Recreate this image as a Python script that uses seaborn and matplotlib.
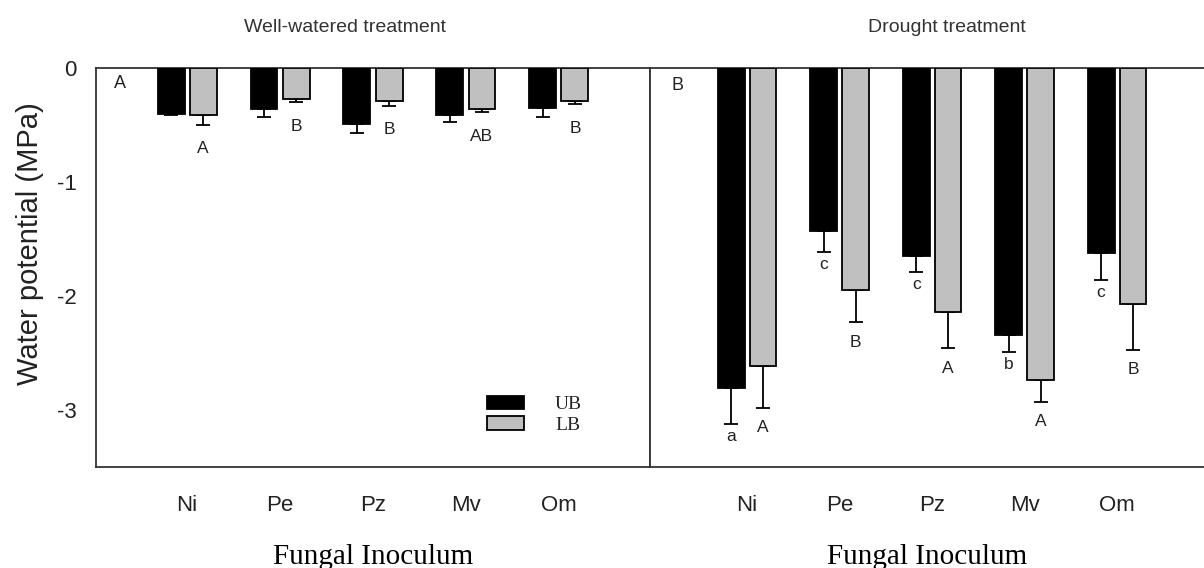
import matplotlib
matplotlib.use("Agg")
import matplotlib.pyplot as plt
from matplotlib.patches import Patch
import seaborn as sns
import pandas as pd

# ---------------- data ----------------
fungi = ["Ni", "Pe", "Pz", "Mv", "Om"]
roots = ["UB", "LB"]

ww_ub = [-0.40, -0.36, -0.49, -0.41, -0.35]
ww_ub_err = [0.01, 0.07, 0.08, 0.06, 0.08]
ww_lb = [-0.41, -0.27, -0.29, -0.36, -0.29]
ww_lb_err = [0.09, 0.03, 0.04, 0.03, 0.03]

dr_ub = [-2.81, -1.43, -1.65, -2.34, -1.62]
dr_ub_err = [0.31, 0.18, 0.14, 0.15, 0.24]
dr_lb = [-2.61, -1.95, -2.14, -2.74, -2.07]
dr_lb_err = [0.37, 0.28, 0.32, 0.19, 0.40]

ww_ub_letters = ["", "", "", "", ""]
ww_lb_letters = ["A", "B", "B", "AB", "B"]
dr_ub_letters = ["a", "c", "c", "b", "c"]
dr_lb_letters = ["A", "B", "A", "A", "B"]

yticks = [0, -1, -2, -3]
titles = ["Well-watered treatment", "Drought treatment"]
panel_tags = ["A", "B"]
xlabel = "Fungal Inoculum"
ylabel = "Water potential (MPa)"

# ---------------- style ----------------
sns.set_style("white")
plt.rcParams["font.family"] = ["Liberation Sans", "DejaVu Sans"]
plt.rcParams["axes.unicode_minus"] = False

W, H = 1204, 568
fig = plt.figure(figsize=(W / 100, H / 100), dpi=100)
ax1 = fig.add_axes([96 / W, 1 - 467 / H, 554 / W, 399 / H])
ax2 = fig.add_axes([650 / W, 1 - 467 / H, 554 / W, 399 / H])

palette = {"UB": "black", "LB": "#c0c0c0"}
txtc = "#222222"


def make_df(ub, lb):
    return pd.DataFrame({
        "fungus": fungi * 2,
        "root": ["UB"] * len(fungi) + ["LB"] * len(fungi),
        "value": list(ub) + list(lb),
    })


def draw_panel(ax, ub, ub_err, lb, lb_err, ub_let, lb_let, up_off, low_off, xlim):
    df = make_df(ub, lb)
    sns.barplot(data=df, x="fungus", y="value", hue="root", order=fungi,
                hue_order=roots, palette=palette, edgecolor="black",
                linewidth=1.3, width=0.69, gap=0.16, errorbar=None,
                legend=False, ax=ax, zorder=3)
    series = [(ub, ub_err, ub_let), (lb, lb_err, lb_let)]
    for cont, (vals, errs, lets) in zip(ax.containers, series):
        for bar, v, e, lt in zip(cont, vals, errs, lets):
            x = bar.get_x() + bar.get_width() / 2
            ax.errorbar(x, v, yerr=[[e], [0]], fmt="none", ecolor="black",
                        elinewidth=1.3, capsize=5, capthick=1.3, zorder=2)
            if lt:
                off = low_off if lt.islower() else up_off
                ax.text(x, v - e - off, lt, ha="center", va="center",
                        fontsize=12.5, color=txtc)
    ax.set_ylim(-3.5, 0)
    ax.set_xlim(*xlim)
    ax.set_yticks(yticks)
    ax.set_yticklabels([str(t) for t in yticks])
    ax.set_xlabel(xlabel, fontfamily="Liberation Serif", fontsize=21,
                  color="black", labelpad=20)
    ax.tick_params(axis="x", direction="out", length=6, width=1.2, pad=14,
                   labelsize=16, colors="#333333", labelcolor=txtc)
    ax.tick_params(axis="y", length=0, pad=14, labelsize=16, labelcolor=txtc)
    for sp in ax.spines.values():
        sp.set_color("#333333")
        sp.set_linewidth(1.3)
        sp.set_visible(True)


draw_panel(ax1, ww_ub, ww_ub_err, ww_lb, ww_lb_err, ww_ub_letters,
           ww_lb_letters, 0.21, 0.11, (-0.98, 4.98))
draw_panel(ax2, dr_ub, dr_ub_err, dr_lb, dr_lb_err, dr_ub_letters,
           dr_lb_letters, 0.175, 0.11, (-1.05, 4.94))

ax1.set_ylabel(ylabel, fontsize=21, color=txtc)
ax1.yaxis.set_label_coords(-0.094, 0.561)
ax2.set_ylabel("")
ax2.tick_params(axis="y", labelleft=False)
ax2.spines["right"].set_visible(False)

# panel tags
ax1.text(0.043, 0.96, panel_tags[0], transform=ax1.transAxes, ha="center",
         va="center", fontsize=13, color=txtc)
ax2.text(0.049, 0.955, panel_tags[1], transform=ax2.transAxes, ha="center",
         va="center", fontsize=13, color=txtc)

# titles
fig.text(345 / W, 1 - 28 / H, titles[0], ha="center", va="center",
         fontsize=14, color="#333333")
fig.text(947 / W, 1 - 28 / H, titles[1], ha="center", va="center",
         fontsize=14, color="#333333")

# legend
handles = [Patch(facecolor=palette[r], edgecolor="black", linewidth=1.3)
           for r in roots]
ax1.legend(handles=handles, labels=roots, frameon=False,
           prop={"family": "Liberation Serif", "size": 14},
           handlelength=1.9, handleheight=0.67, handletextpad=1.6,
           labelspacing=0.15, borderpad=0, borderaxespad=0,
           loc="upper left", bbox_to_anchor=(487 / W, 1 - 396 / H),
           bbox_transform=fig.transFigure)

fig.savefig("out.png", dpi=100)
